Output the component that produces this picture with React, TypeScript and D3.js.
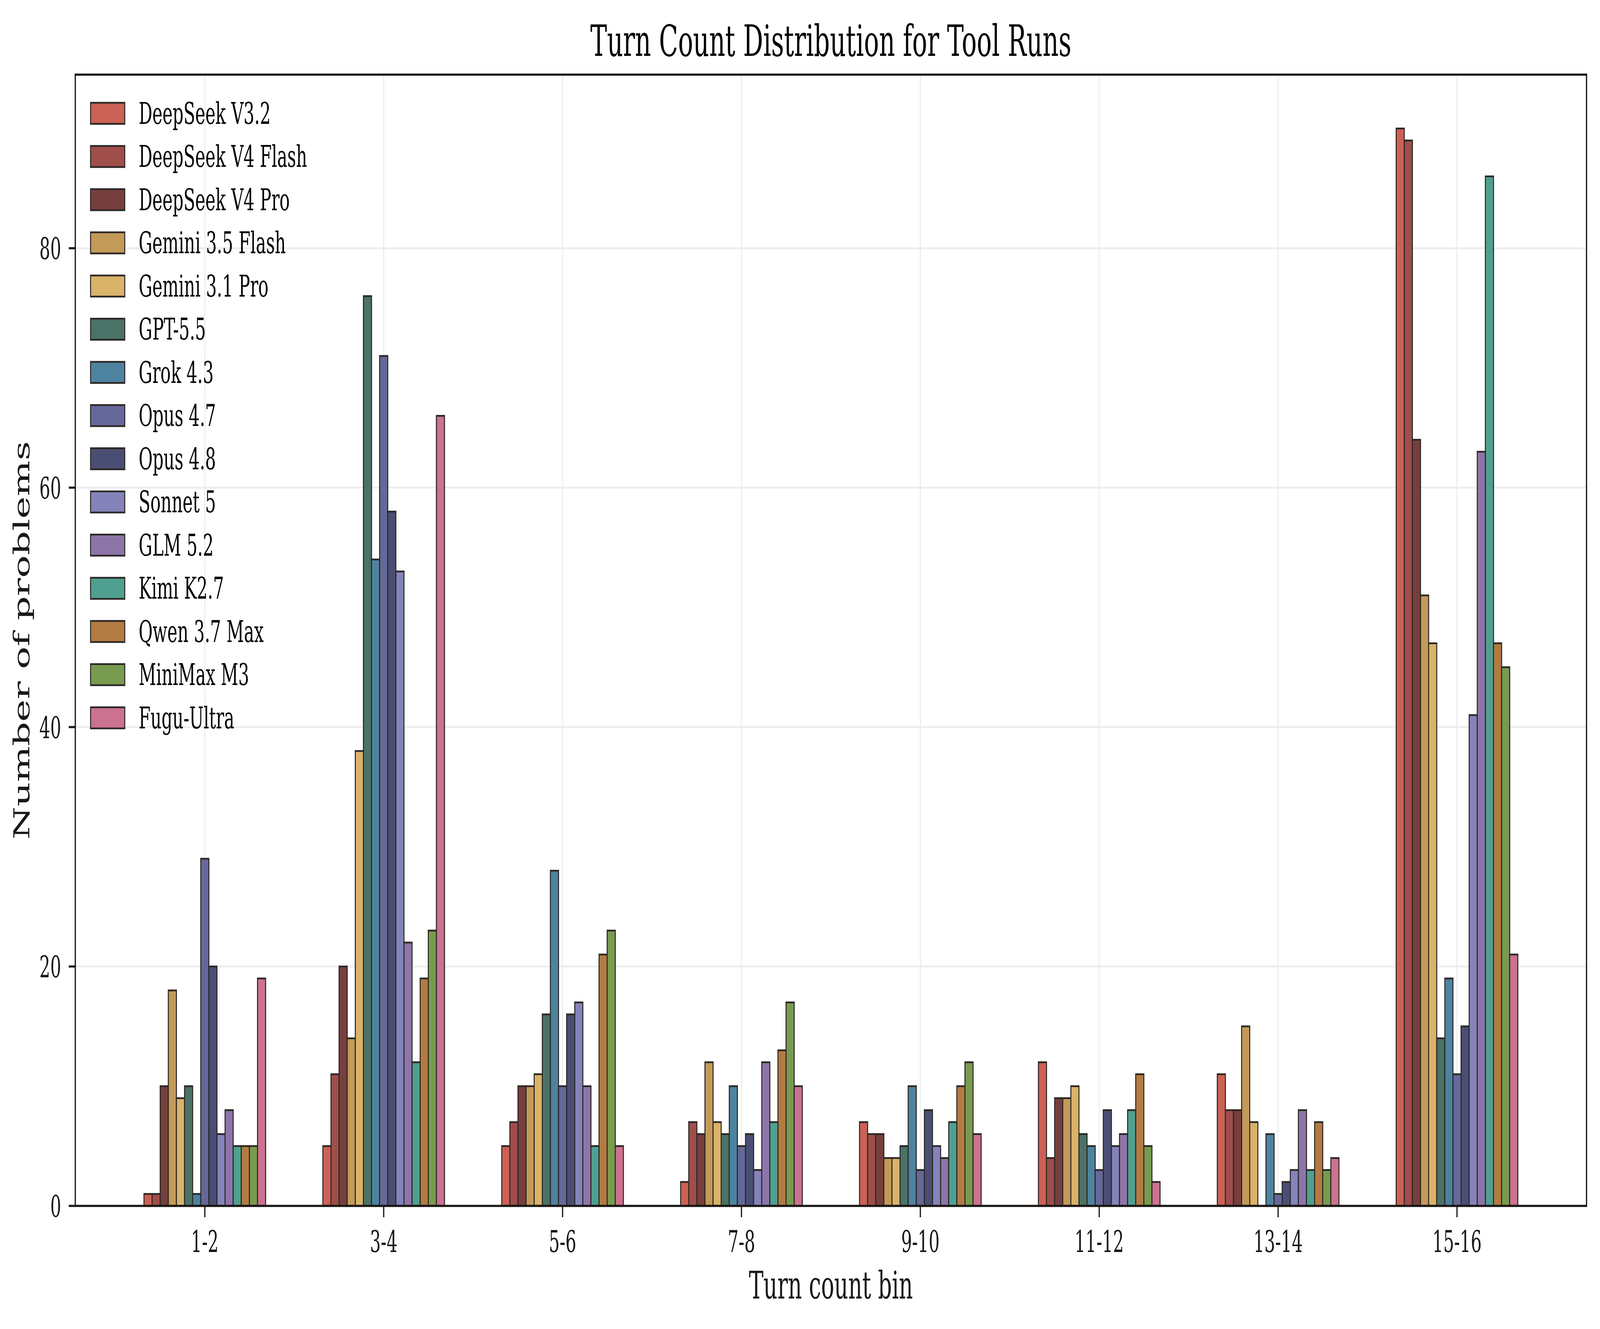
import React from 'react';
import * as d3 from 'd3';

// turn-count bins on the x axis
const bins = ['1-2', '3-4', '5-6', '7-8', '9-10', '11-12', '13-14', '15-16'];

// problems per bin, one array per model
const deepseekV32 = [1, 5, 5, 2, 7, 12, 11, 90];
const deepseekV4Flash = [1, 11, 7, 7, 6, 4, 8, 89];
const deepseekV4Pro = [10, 20, 10, 6, 6, 9, 8, 64];
const gemini35Flash = [18, 14, 10, 12, 4, 9, 15, 51];
const gemini31Pro = [9, 38, 11, 7, 4, 10, 7, 47];
const gpt55 = [10, 76, 16, 6, 5, 6, 0, 14];
const grok43 = [1, 54, 28, 10, 10, 5, 6, 19];
const opus47 = [29, 71, 10, 5, 3, 3, 1, 11];
const opus48 = [20, 58, 16, 6, 8, 8, 2, 15];
const sonnet5 = [6, 53, 17, 3, 5, 5, 3, 41];
const glm52 = [8, 22, 10, 12, 4, 6, 8, 63];
const kimiK27 = [5, 12, 5, 7, 7, 8, 3, 86];
const qwen37Max = [5, 19, 21, 13, 10, 11, 7, 47];
const miniMaxM3 = [5, 23, 23, 17, 12, 5, 3, 45];
const fuguUltra = [19, 66, 5, 10, 6, 2, 4, 21];

const modelNames = [
  'DeepSeek V3.2', 'DeepSeek V4 Flash', 'DeepSeek V4 Pro', 'Gemini 3.5 Flash', 'Gemini 3.1 Pro',
  'GPT-5.5', 'Grok 4.3', 'Opus 4.7', 'Opus 4.8', 'Sonnet 5', 'GLM 5.2', 'Kimi K2.7',
  'Qwen 3.7 Max', 'MiniMax M3', 'Fugu-Ultra',
];
const modelColors = [
  '#cc6155', '#9f4e4a', '#763f3e', '#c39a58', '#d9b36a',
  '#4a7266', '#4e83a0', '#656899', '#4b4e74', '#8484bb', '#8e75a9', '#4fa090',
  '#b27b42', '#789b50', '#cb7290',
];
const modelValues = [
  deepseekV32, deepseekV4Flash, deepseekV4Pro, gemini35Flash, gemini31Pro,
  gpt55, grok43, opus47, opus48, sonnet5, glm52, kimiK27, qwen37Max, miniMaxM3, fuguUltra,
];
const yTicks = [0, 20, 40, 60, 80];

// the figure is laid out in reference pixels and the viewBox maps it onto the window
const W = 7119;
const H = 3401;
const left = 335;
const right = 7059;
const top = 191;
const bottom = 3086;

const FONT = '"DejaVu Serif", "Liberation Serif", serif';
const INK = '#1a1714';

const App: React.FC = () => {
  const n = modelNames.length;
  const groupW = 0.68;
  const barW = groupW / n;
  const pad = (bins.length - 1 + groupW) * 0.05;

  const x = d3.scaleLinear().domain([-groupW / 2 - pad, bins.length - 1 + groupW / 2 + pad]).range([left, right]);
  const y = d3.scaleLinear().domain([0, 94.5]).range([bottom, top]);

  const tickFs = 76;
  const labelFs = 97;
  const titleFs = 111;

  return (
    <div style={{ position: 'absolute', left: 0, top: 0, width: '100vw', height: '100vh', background: '#fff' }}>
      <svg
        width="100%"
        height="100%"
        viewBox={`0 0 ${W} ${H}`}
        preserveAspectRatio="none"
        style={{ display: 'block' }}
        fontFamily={FONT}
      >
        <rect width={W} height={H} fill="#fff" />

        {/* grid */}
        <g stroke="#ededed" strokeWidth={5}>
          {bins.map((b, i) => (
            <line key={`gx-${b}`} x1={x(i)} x2={x(i)} y1={top} y2={bottom} />
          ))}
          {yTicks.map(t => (
            <line key={`gy-${t}`} x1={left} x2={right} y1={y(t)} y2={y(t)} />
          ))}
        </g>

        {/* bars */}
        <g>
          {modelValues.map((vals, m) =>
            vals.map((v, i) => {
              const x0 = x(i + (m - n / 2) * barW);
              const x1 = x(i + (m - n / 2 + 1) * barW);
              return (
                <rect
                  key={`b-${m}-${i}`}
                  x={x0}
                  y={y(v)}
                  width={x1 - x0}
                  height={y(0) - y(v)}
                  fill={modelColors[m]}
                  stroke="#2b2724"
                  strokeWidth={4.5}
                />
              );
            })
          )}
        </g>

        {/* spines */}
        <rect x={left} y={top} width={right - left} height={bottom - top} fill="none" stroke={INK} strokeWidth={5.5} />

        {/* x ticks */}
        <g>
          {bins.map((b, i) => (
            <g key={`xt-${b}`}>
              <line x1={x(i)} x2={x(i)} y1={bottom} y2={bottom + 29} stroke={INK} strokeWidth={5.5} />
              <text x={x(i)} y={3204} fontSize={tickFs} textAnchor="middle" fill={INK}>{b}</text>
            </g>
          ))}
        </g>

        {/* y ticks */}
        <g>
          {yTicks.map(t => (
            <g key={`yt-${t}`}>
              <line x1={left - 29} x2={left} y1={y(t)} y2={y(t)} stroke={INK} strokeWidth={5.5} />
              <text x={272} y={y(t) + 28} fontSize={tickFs} textAnchor="end" fill={INK}>{t}</text>
            </g>
          ))}
        </g>

        {/* axis labels and title */}
        <text x={(left + right) / 2} y={3323} fontSize={labelFs} textAnchor="middle" fill={INK}>Turn count bin</text>
        <text transform={`translate(130, ${(top + bottom) / 2}) rotate(-90)`} fontSize={labelFs} textAnchor="middle" fill={INK}>
          Number of problems
        </text>
        <text x={(left + right) / 2} y={143} fontSize={titleFs} textAnchor="middle" fill="#000">
          Turn Count Distribution for Tool Runs
        </text>

        {/* legend */}
        <g>
          {modelNames.map((name, m) => {
            const cy = 290 + m * 110.5;
            return (
              <g key={`lg-${name}`}>
                <rect x={403} y={cy - 27} width={152} height={54} fill={modelColors[m]} stroke="#2b2724" strokeWidth={4.5} />
                <text x={617} y={cy + 27} fontSize={tickFs} fill="#000">{name}</text>
              </g>
            );
          })}
        </g>
      </svg>
    </div>
  );
};

export default App;
